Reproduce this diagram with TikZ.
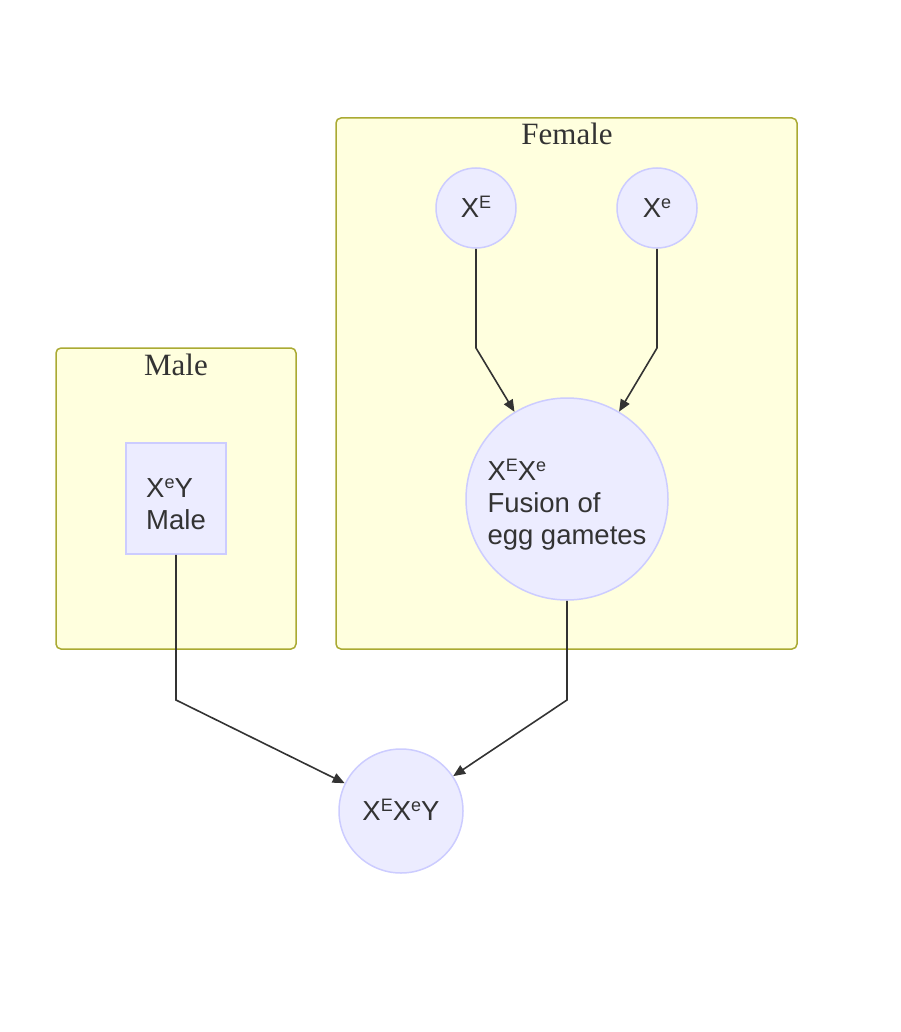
\documentclass[tikz,border=0pt]{standalone}
\usepackage{fontspec}
\setmainfont{Liberation Sans}
\newfontfamily\titlefont{Liberation Serif}
\usetikzlibrary{arrows.meta}
\definecolor{clfill}{HTML}{FFFFDE}
\definecolor{cldraw}{HTML}{AAAA33}
\definecolor{ndfill}{HTML}{ECECFF}
\definecolor{nddraw}{HTML}{CCCCFF}
\definecolor{txt}{HTML}{333333}
\newcommand\sups[1]{\smash{\raisebox{8.6pt}{\fontsize{18}{18}\selectfont #1}}}
\tikzset{
  cluster/.style={draw=cldraw, fill=clfill, line width=1.5pt, rounded corners=5pt},
  ctitle/.style={text=txt, font=\titlefont\fontsize{31}{36}\selectfont, anchor=base, inner sep=0pt},
  circ/.style={circle, draw=nddraw, fill=ndfill, line width=1.5pt, inner sep=0pt, text=txt,
    font=\fontsize{27.5}{32}\selectfont, align=left},
  sq/.style={rectangle, draw=nddraw, fill=ndfill, line width=1.5pt, inner sep=0pt, text=txt,
    font=\fontsize{27.5}{32}\selectfont, align=left},
  edge/.style={draw=txt, line width=1.6pt, -{Triangle[length=12pt,width=10pt]}},
}
\begin{document}
\begin{tikzpicture}[x=1pt,y=-1pt]
\useasboundingbox (0,0) rectangle (900,1032);
% clusters
\draw[cluster] (56,348) rectangle (296,649);
\node[ctitle] (tmale) at (176,375) {Male};
\draw[cluster] (336,118) rectangle (797,649);
\node[ctitle] (tfemale) at (567,145) {Female};
% nodes
\node[circ, minimum size=80pt] (xE) at (476,208) {X\sups{E}};
\node[circ, minimum size=80pt] (xe) at (657,208) {X\sups{e}};
\node[circ, minimum size=202pt, text height=97pt, text depth=6pt] (fus) at (567,499) {X\sups{E}X\sups{e}\\Fusion of\\egg gametes};
\node[sq, minimum width=100pt, minimum height=111pt, text height=61pt, text depth=0pt] (xeY) at (176,498.5) {X\sups{e}Y\\Male};
\node[circ, minimum size=124pt] (res) at (401,811) {X\sups{E}X\sups{e}Y};
% bends
\coordinate (b1) at (476,348);
\coordinate (b2) at (657,348);
\coordinate (b3) at (567,700);
\coordinate (b4) at (176,700);
% edges
\draw[edge] (xE.south) -- (b1) -- (fus);
\draw[edge] (xe.south) -- (b2) -- (fus);
\draw[edge] (fus.south) -- (b3) -- (res);
\draw[edge] (xeY.south) -- (b4) -- (res);
\end{tikzpicture}
\end{document}
